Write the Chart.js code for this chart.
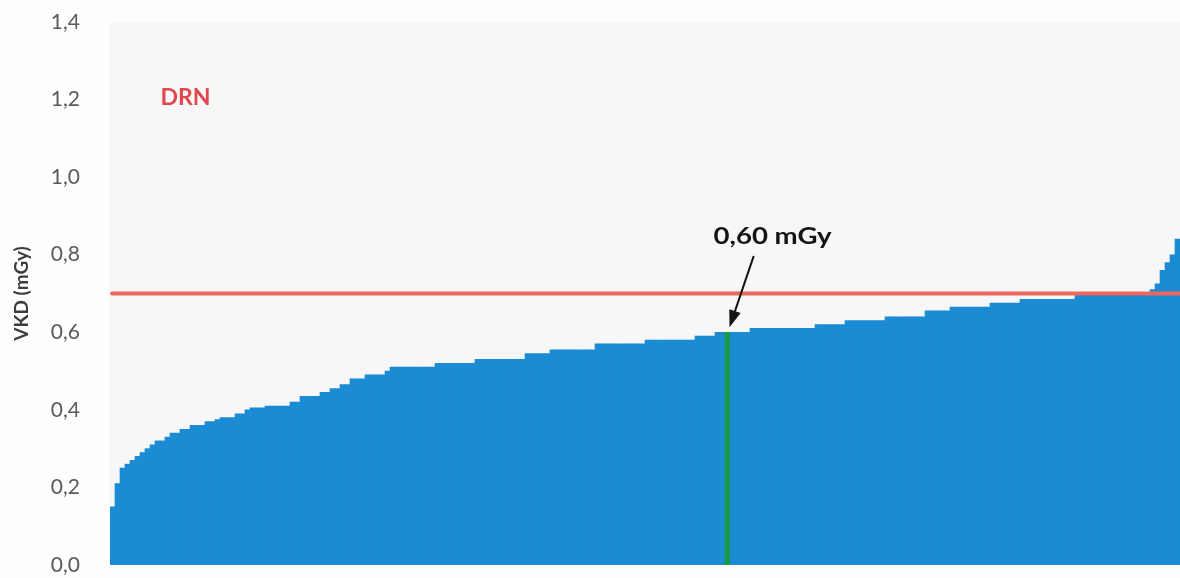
<!DOCTYPE html>
<html>
<head>
<meta charset="utf-8">
<script src="https://cdn.jsdelivr.net/npm/chart.js@4"></script>
<style>
  html, body { margin: 0; padding: 0; background: #fefefe; }
  #wrap { width: 1180px; height: 578px; }
</style>
</head>
<body>
<div id="wrap"><canvas id="vkdChart"></canvas></div>
<script>
// VKD per examen, trié (mGy)
const vkd = [
  0.15, 0.21, 0.25, 0.26, 0.27, 0.28, 0.29, 0.30, 0.31, 0.32,
  0.32, 0.33, 0.34, 0.34, 0.35, 0.35, 0.36, 0.36, 0.36, 0.37,
  0.37, 0.375, 0.38, 0.38, 0.38, 0.39, 0.39, 0.40,
  0.405, 0.405, 0.405,
  0.41, 0.41, 0.41, 0.41, 0.41,
  0.42, 0.42,
  0.435, 0.435, 0.435, 0.435,
  0.445, 0.445,
  0.455, 0.455,
  0.465, 0.465,
  0.48, 0.48, 0.48,
  0.49, 0.49, 0.49, 0.49,
  0.50,
  0.51, 0.51, 0.51, 0.51, 0.51, 0.51, 0.51, 0.51, 0.51,
  0.52, 0.52, 0.52, 0.52, 0.52, 0.52, 0.52, 0.52,
  0.53, 0.53, 0.53, 0.53, 0.53, 0.53, 0.53, 0.53, 0.53, 0.53,
  0.545, 0.545, 0.545, 0.545, 0.545,
  0.555, 0.555, 0.555, 0.555, 0.555, 0.555, 0.555, 0.555, 0.555,
  0.57, 0.57, 0.57, 0.57, 0.57, 0.57, 0.57, 0.57, 0.57, 0.57,
  0.58, 0.58, 0.58, 0.58, 0.58, 0.58, 0.58, 0.58, 0.58, 0.58,
  0.59, 0.59, 0.59, 0.59,
  0.60, 0.60, 0.60, 0.60, 0.60, 0.60, 0.60,
  0.61, 0.61, 0.61, 0.61, 0.61, 0.61, 0.61, 0.61, 0.61, 0.61, 0.61, 0.61, 0.61,
  0.62, 0.62, 0.62, 0.62, 0.62, 0.62,
  0.63, 0.63, 0.63, 0.63, 0.63, 0.63, 0.63, 0.63,
  0.64, 0.64, 0.64, 0.64, 0.64, 0.64, 0.64, 0.64,
  0.655, 0.655, 0.655, 0.655, 0.655,
  0.665, 0.665, 0.665, 0.665, 0.665, 0.665, 0.665, 0.665,
  0.675, 0.675, 0.675, 0.675, 0.675, 0.675,
  0.685, 0.685, 0.685, 0.685, 0.685, 0.685, 0.685, 0.685, 0.685, 0.685, 0.685,
  0.695, 0.695, 0.695, 0.695, 0.695, 0.695, 0.695, 0.695, 0.695, 0.695, 0.695,
  0.70, 0.70, 0.70, 0.70,
  0.71, 0.725, 0.76, 0.78, 0.80, 0.84
];
const examens = vkd.map((v, i) => i + 1);
const drn = 0.70;             // niveau de référence
const medianIndex = 123;      // barre verte
const medianLabel = '0,60 mGy';
const yTicks = [0, 0.2, 0.4, 0.6, 0.8, 1.0, 1.2, 1.4];

const FONT = 'Lato, "Open Sans", sans-serif';

const barColors = vkd.map((v, i) => i === medianIndex ? '#1a9a3e' : '#1b8bd3');

// fond de la zone, ligne DRN, textes et flèche
const overlay = {
  id: 'overlay',
  beforeDraw(chart) {
    const { ctx, chartArea } = chart;
    ctx.save();
    ctx.fillStyle = '#f7f7f7';
    ctx.fillRect(chartArea.left, chartArea.top, chartArea.right - chartArea.left, chartArea.bottom - chartArea.top);
    ctx.restore();
  },
  afterDatasetsDraw(chart) {
    const { ctx, chartArea, scales: { x, y } } = chart;
    ctx.save();

    // ligne DRN
    const yd = y.getPixelForValue(drn);
    ctx.strokeStyle = '#f0675c';
    ctx.lineWidth = 4;
    ctx.lineCap = 'round';
    ctx.beginPath();
    ctx.moveTo(chartArea.left + 2, yd);
    ctx.lineTo(chartArea.right + 4, yd);
    ctx.stroke();

    ctx.font = 'bold 23px ' + FONT;
    ctx.fillStyle = '#e0474f';
    ctx.textAlign = 'left';
    ctx.textBaseline = 'middle';
    ctx.fillText('DRN', x.getPixelForValue(10) - 2, y.getPixelForValue(1.205));

    // médiane (texte un peu étiré comme dans l'original)
    const tx = x.getPixelForValue(132), ty = y.getPixelForValue(0.848);
    ctx.save();
    ctx.translate(tx, ty);
    ctx.scale(1.2, 1);
    ctx.font = 'bold 23px ' + FONT;
    ctx.fillStyle = '#141414';
    ctx.textAlign = 'center';
    ctx.fillText(medianLabel, 0, 0);
    ctx.restore();

    const x0 = x.getPixelForValue(128) + 1, y0 = y.getPixelForValue(0.795);
    const x1 = x.getPixelForValue(medianIndex) + 2, y1 = y.getPixelForValue(0.613);
    const ang = Math.atan2(y1 - y0, x1 - x0);
    const head = 17, half = 6;
    ctx.strokeStyle = '#141414';
    ctx.lineWidth = 2;
    ctx.beginPath();
    ctx.moveTo(x0, y0);
    ctx.lineTo(x1 - Math.cos(ang) * head * 0.8, y1 - Math.sin(ang) * head * 0.8);
    ctx.stroke();
    ctx.fillStyle = '#141414';
    ctx.beginPath();
    ctx.moveTo(x1, y1);
    ctx.lineTo(x1 - Math.cos(ang) * head - Math.sin(ang) * half, y1 - Math.sin(ang) * head + Math.cos(ang) * half);
    ctx.lineTo(x1 - Math.cos(ang) * head + Math.sin(ang) * half, y1 - Math.sin(ang) * head - Math.cos(ang) * half);
    ctx.closePath();
    ctx.fill();

    ctx.restore();
  }
};

new Chart(document.getElementById('vkdChart'), {
  type: 'bar',
  data: {
    labels: examens,
    datasets: [{
      data: vkd,
      backgroundColor: barColors,
      borderWidth: 0,
      categoryPercentage: 1.0,
      barPercentage: 1.0
    }]
  },
  options: {
    responsive: true,
    maintainAspectRatio: false,
    animation: false,
    layout: { padding: { top: 22, bottom: 13, left: 0, right: 0 } },
    plugins: {
      legend: { display: false },
      tooltip: { enabled: false }
    },
    scales: {
      x: { display: false },
      y: {
        min: 0,
        max: 1.4,
        afterBuildTicks: (scale) => { scale.ticks = yTicks.map(v => ({ value: v })); },
        afterFit: (scale) => {
          scale.width = 110;
          scale.paddingTop = 0;
          scale.paddingBottom = 0;
        },
        border: { display: false },
        grid: { display: false, drawTicks: false },
        ticks: {
          padding: 30,
          color: '#5a5a5a',
          font: { family: FONT, size: 21 },
          callback: (v) => Number(v).toFixed(1).replace('.', ',')
        },
        title: {
          display: true,
          text: 'VKD (mGy)',
          color: '#3c3c3c',
          font: { family: FONT, size: 19, weight: 'bold' },
          padding: { top: 10, bottom: 0 }
        }
      }
    }
  },
  plugins: [overlay]
});
</script>
</body>
</html>
